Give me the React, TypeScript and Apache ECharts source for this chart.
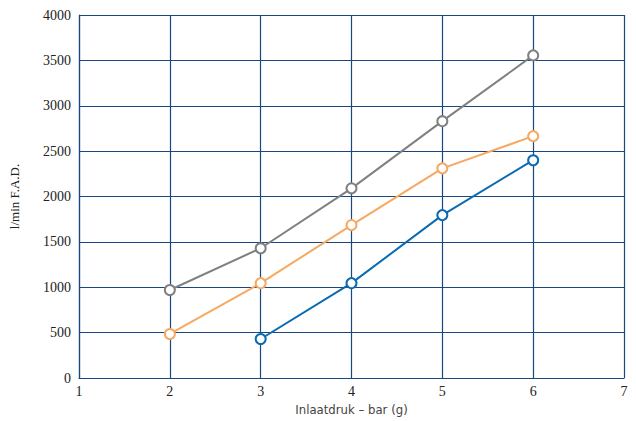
import React, { useEffect, useRef } from "react";
import * as echarts from "echarts";

const xValues = [2, 3, 4, 5, 6];
const grayValues = [970, 1430, 2090, 2830, 3555];
const orangeValues = [485, 1045, 1685, 2310, 2665];
const blueValues = [null, 430, 1045, 1795, 2400];

const xName = "Inlaatdruk – bar (g)";
const yName = "l/min F.A.D.";

const gridColor = "#1a4780";
const serif = "Liberation Serif, Times New Roman, serif";

function pairs(vals: (number | null)[]) {
  return xValues.map((x, i) => [x, vals[i]]).filter((p) => p[1] !== null);
}

export default function App() {
  const ref = useRef<HTMLDivElement>(null);
  useEffect(() => {
    document.body.style.margin = "0";
    const chart = echarts.init(ref.current!, null, { renderer: "svg" });
    const mkSeries = (data: (number | null)[], color: string) => ({
      type: "line",
      data: pairs(data),
      symbol: "circle",
      symbolSize: 10,
      lineStyle: { color, width: 2 },
      itemStyle: { color: "#fff", borderColor: color, borderWidth: 2 },
      z: 3,
    });
    chart.setOption({
      animation: false,
      backgroundColor: "#fff",
      textStyle: { fontFamily: serif },
      grid: { left: 78, right: 12, top: 15, bottom: 43 },
      xAxis: {
        type: "value",
        min: 1,
        max: 7,
        interval: 1,
        name: xName,
        nameLocation: "middle",
        nameGap: 24,
        nameTextStyle: {
          fontFamily: "DejaVu Sans Condensed, Liberation Sans Narrow, Noto Sans, sans-serif",
          fontSize: 13,
          color: "#444",
        },
        axisLine: { show: true, lineStyle: { color: gridColor, width: 1.2 } },
        axisTick: { show: false },
        axisLabel: {
          fontFamily: serif,
          fontSize: 14,
          color: "#222",
          margin: 6,
          formatter: (v: number) => String(v),
        },
        splitLine: { show: true, lineStyle: { color: gridColor, width: 1.2 } },
      },
      yAxis: {
        type: "value",
        min: 0,
        max: 4000,
        interval: 500,
        name: yName,
        nameLocation: "middle",
        nameGap: 58,
        nameTextStyle: {
          fontFamily: serif,
          fontSize: 13,
          color: "#222",
        },
        axisLine: { show: true, lineStyle: { color: gridColor, width: 1.2 } },
        axisTick: { show: false },
        axisLabel: {
          fontFamily: serif,
          fontSize: 14,
          color: "#222",
          margin: 8,
          formatter: (v: number) => String(v),
        },
        splitLine: { show: true, lineStyle: { color: gridColor, width: 1.2 } },
      },
      series: [
        mkSeries(grayValues, "#808080"),
        mkSeries(orangeValues, "#f5a962"),
        mkSeries(blueValues, "#0a6bb3"),
      ],
    });
    return () => chart.dispose();
  }, []);
  return <div ref={ref} style={{ width: 636, height: 421 }} />;
}
